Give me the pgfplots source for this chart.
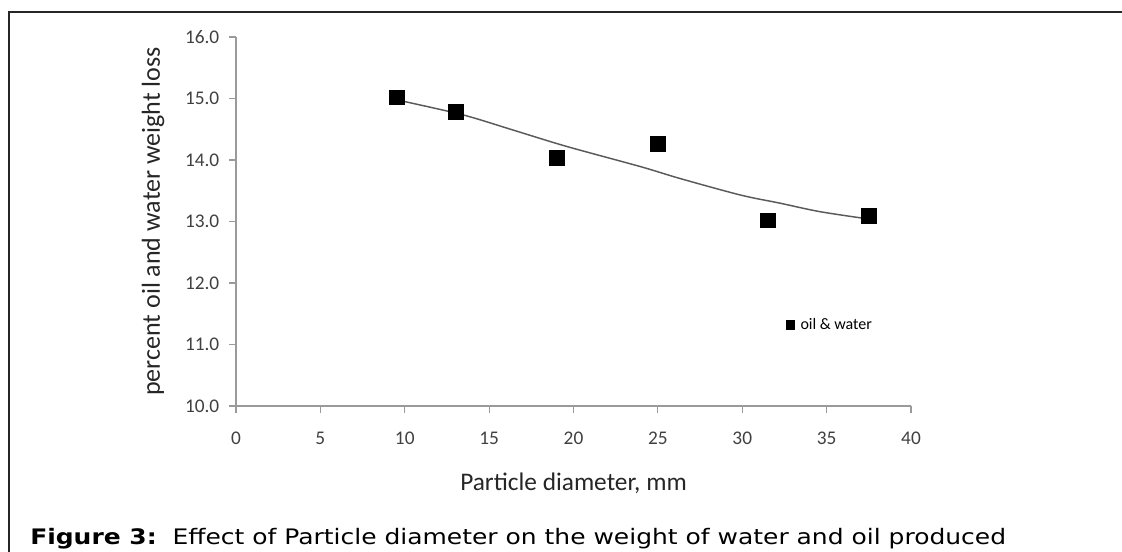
\documentclass[border=0pt]{standalone}
\usepackage{fontspec}
\setmainfont{Carlito}
\newfontfamily\captionfont[FakeStretch=1.17]{DejaVu Sans}
\usepackage{pgfplots}
\pgfplotsset{compat=1.18}

\definecolor{axisgray}{HTML}{9A9A9A}
\definecolor{textgray}{HTML}{404040}
\definecolor{trendgray}{HTML}{5A5A5A}

\begin{document}
\begin{tikzpicture}
  % page size = 1122 x 552 px at 0.75pt per px
  \path[use as bounding box] (0,0) rectangle (841.5pt,414pt);
  % frame (top and left edges, the rest is cut off)
  \draw[line width=1.6pt, black!85] (6.75pt,0pt) -- (6.75pt,405pt) -- (841.5pt,405pt);

  \begin{axis}[
    at={(177pt,109.5pt)}, anchor=south west,
    scale only axis,
    width=506.25pt, height=276.75pt,
    xmin=0, xmax=40, ymin=10, ymax=16,
    xtick={0,5,...,40},
    ytick={10,11,...,16},
    axis x line*=bottom, axis y line*=left,
    axis line style={-, draw=axisgray, line width=0.8pt},
    tick style={draw=axisgray, line width=0.8pt},
    tick align=outside,
    major tick length=5pt,
    yticklabel style={/pgf/number format/fixed, /pgf/number format/fixed zerofill,
      /pgf/number format/precision=1},
    /pgf/number format/assume math mode=true,
    ticklabel style={font=\fontsize{14.5}{17}\selectfont, text=textgray},
    xticklabel style={yshift=-11pt},
    yticklabel style={xshift=-4pt},
    xlabel={Particle diameter, mm},
    ylabel={percent oil and water weight loss},
    label style={text=black!85},
    xlabel style={font=\fontsize{19}{22}\selectfont, at={(axis description cs:0.5,-0.2087)}, anchor=center},
    ylabel style={font=\fontsize{19.5}{22}\selectfont, at={(axis description cs:-0.123,0.5)}, anchor=center},
    legend style={draw=none, fill=none, at={(axis cs:32.55,11.32)}, anchor=west,
      font=\fontsize{12}{14}\selectfont, inner sep=0pt,
      legend cell align=left},
    legend image code/.code={\draw[black, fill=black] (0.05cm,-0.11cm) rectangle (0.27cm,0.11cm);
      \path (0.36cm,0);},
    clip=false,
  ]
    \addplot[trendgray, line width=1.1pt, smooth, forget plot] coordinates {
      (9.5,14.98) (10,14.95) (13.5,14.73) (16.5,14.48) (19.6,14.22) (24,13.89)
      (26.3,13.70) (29.9,13.43) (32.2,13.30) (34.6,13.16) (37.5,13.04)
    };
    \addplot[only marks, mark=square*, mark size=5.6pt, mark options={fill=black, draw=black}] coordinates {
      (9.5,15.02) (13,14.78) (19,14.03) (25,14.27) (31.5,13.02) (37.5,13.10)
    };
    \addlegendentry{oil \& water}
  \end{axis}

  % figure caption under the chart
  \node[anchor=base west, inner sep=0pt, font=\captionfont\fontsize{16}{19}\selectfont]
    at (22.5pt,5.3pt) {\textbf{Figure 3:}\ \ Effect of Particle diameter on the weight of water and oil produced};
\end{tikzpicture}
\end{document}
